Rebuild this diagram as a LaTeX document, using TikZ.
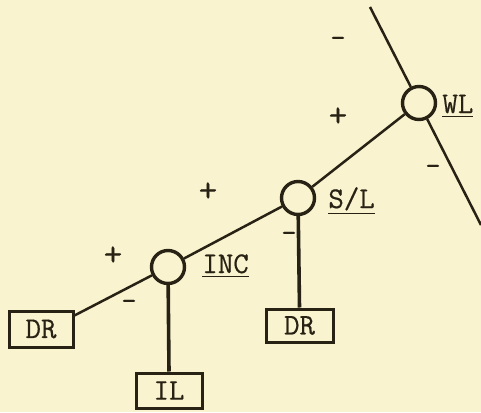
\documentclass[tikz,border=0pt]{standalone}
\usepackage{fontspec}
\newfontfamily\typefont{Latin Modern Mono}[FakeBold=0.5]
\definecolor{paper}{RGB}{250,243,208}
\definecolor{ink}{RGB}{40,34,20}
\begin{document}
\begin{tikzpicture}[x=0.5pt,y=-0.5pt,
  every node/.style={text=ink,font=\typefont\fontsize{15}{17}\selectfont},
  junction/.style={circle,draw=ink,line width=1.7pt,minimum size=16.5pt,inner sep=0pt},
  blockbox/.style={rectangle,draw=ink,line width=1.5pt,inner sep=0pt},
  link/.style={draw=ink,line width=1.25pt},
  stem/.style={draw=ink,line width=1.8pt},
  tag/.style={anchor=base west,inner sep=0pt},
  sign/.style={inner sep=0pt},
  plus/.style={sign,font=\typefont\fontsize{18}{20}\selectfont}]
  % paper
  \fill[paper] (0,0) rectangle (481,412);
  \useasboundingbox (0,0) rectangle (481,412);

  % junctions
  \node[junction] (WL)  at (419,103) {};
  \node[junction] (SL)  at (298,198) {};
  \node[junction] (INC) at (168,267) {};

  % terminal blocks
  \node[blockbox,minimum width=32pt,minimum height=18pt] (dr1) at (41,329) {DR};
  \node[blockbox,minimum width=33pt,minimum height=17.5pt] (il) at (169,390.5) {IL};
  \node[blockbox,minimum width=33.5pt,minimum height=16.5pt] (dr2) at (299.5,325.5) {DR};

  % junction labels
  \node[tag] (lWL)  at (442,113) {\underline{WL}};
  \node[tag] (lSL)  at (328,208) {\underline{S/L}};
  \node[tag] (lINC) at (202,273) {\underline{INC}};

  % free ends of the main line through WL
  \coordinate (top) at (370,7);
  \coordinate (low) at (481,225);

  % connectors
  \path[link] (top) -- (WL);
  \path[link] (WL) -- (low);
  \path[link] (WL) -- (SL);
  \path[link] (SL) -- (INC);
  \path[link] (INC) -- (dr1.22);
  \path[stem] (INC) -- (il.north);
  \path[stem] (SL) -- (dr2.north);

  % signs
  \node[sign] (s1) at (338,42)  {-};
  \node[plus] (s2) at (338,117) {+};
  \node[sign] (s3) at (433,170) {-};
  \node[plus] (s4) at (208,192) {+};
  \node[sign] (s5) at (289,237) {-};
  \node[plus] (s6) at (113,256) {+};
  \node[sign] (s7) at (129,305) {-};
\end{tikzpicture}
\end{document}
